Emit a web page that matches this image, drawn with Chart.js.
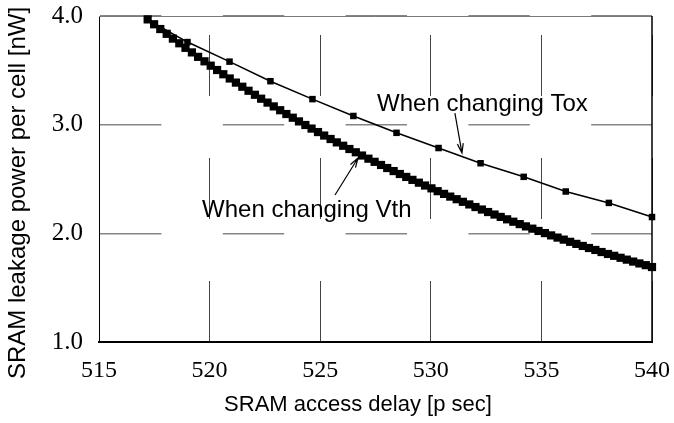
<!DOCTYPE html>
<html>
<head>
<meta charset="utf-8">
<script src="https://cdn.jsdelivr.net/npm/chart.js@4.4.1/dist/chart.umd.min.js"></script>
<style>
  html, body { margin: 0; padding: 0; background: #ffffff; }
  #wrap { width: 674px; height: 423px; }
</style>
</head>
<body>
<div id="wrap"><canvas id="c" width="674" height="423"></canvas></div>
<script>
// ---- data ----
const xTickValues = [515, 520, 525, 530, 535, 540];
const yTickValues = [1.0, 2.0, 3.0, 4.0];

const xTitle = "SRAM access delay [p sec]";
const yTitle = "SRAM leakage power per cell [nW]";
const labelTox = "When changing Tox";
const labelVth = "When changing Vth";

// "When changing Tox" series (delay [ps], power [nW])
const toxDelay = [517.2, 519.0, 520.9, 522.75, 524.65, 526.5, 528.45, 530.35, 532.25, 534.2, 536.1, 538.05, 540.0];
const toxPower = [3.965, 3.76, 3.58, 3.40, 3.235, 3.08, 2.925, 2.785, 2.645, 2.52, 2.385, 2.28, 2.15];

// "When changing Vth" series (delay [ps], power [nW])
const vthDelay = [
  517.20, 517.49, 517.77, 518.06, 518.34, 518.63, 518.91, 519.20, 519.48, 519.77,
  520.05, 520.34, 520.62, 520.91, 521.19, 521.48, 521.76, 522.05, 522.33, 522.62,
  522.90, 523.19, 523.47, 523.76, 524.04, 524.33, 524.61, 524.90, 525.18, 525.47,
  525.75, 526.04, 526.32, 526.61, 526.89, 527.18, 527.46, 527.75, 528.03, 528.32,
  528.60, 528.89, 529.17, 529.46, 529.74, 530.03, 530.31, 530.60, 530.88, 531.17,
  531.45, 531.74, 532.02, 532.31, 532.59, 532.88, 533.16, 533.45, 533.73, 534.02,
  534.30, 534.59, 534.87, 535.16, 535.44, 535.73, 536.01, 536.30, 536.58, 536.87,
  537.15, 537.44, 537.72, 538.01, 538.29, 538.58, 538.86, 539.15, 539.43, 539.72,
  540.00
];
const vthPower = [
  3.969, 3.924, 3.880, 3.836, 3.792, 3.749, 3.707, 3.665, 3.624, 3.583,
  3.543, 3.503, 3.464, 3.425, 3.387, 3.349, 3.312, 3.275, 3.239, 3.203,
  3.168, 3.133, 3.098, 3.064, 3.030, 2.997, 2.964, 2.932, 2.900, 2.868,
  2.837, 2.806, 2.776, 2.746, 2.716, 2.687, 2.658, 2.629, 2.601, 2.573,
  2.546, 2.519, 2.492, 2.466, 2.440, 2.414, 2.388, 2.363, 2.338, 2.314,
  2.290, 2.266, 2.242, 2.219, 2.196, 2.173, 2.151, 2.129, 2.107, 2.085,
  2.064, 2.043, 2.022, 2.002, 1.981, 1.961, 1.942, 1.922, 1.903, 1.884,
  1.865, 1.847, 1.828, 1.810, 1.793, 1.775, 1.758, 1.740, 1.723, 1.707,
  1.690
];

// ---- build chart ----
const toxPoints = toxDelay.map((d, i) => ({ x: d, y: toxPower[i] }));
const vthPoints = vthDelay.map((d, i) => ({ x: d, y: vthPower[i] }));

const annotationPlugin = {
  id: 'annot',
  beforeDatasetsDraw(chart) {
    const { ctx, chartArea: a } = chart;
    ctx.save();
    ctx.lineWidth = 1;
    ctx.strokeStyle = '#7a7a7a';
    ctx.beginPath();
    ctx.moveTo(a.left, a.top + 0.5);
    ctx.lineTo(a.right, a.top + 0.5);
    ctx.stroke();
    ctx.strokeStyle = '#000000';
    ctx.lineWidth = 1.5;
    ctx.beginPath();
    ctx.moveTo(a.right, a.top);
    ctx.lineTo(a.right, a.bottom);
    ctx.stroke();
    ctx.restore();
  },
  afterDatasetsDraw(chart) {
    const { ctx } = chart;
    const xs = chart.scales.x, ys = chart.scales.y;
    const px = v => xs.getPixelForValue(v);
    const py = v => ys.getPixelForValue(v);
    ctx.save();
    ctx.fillStyle = '#000000';

    // axis titles
    ctx.textAlign = 'center';
    ctx.textBaseline = 'middle';
    ctx.font = '22px "Liberation Sans", Arial, sans-serif';
    ctx.fillText(xTitle, 358, 405);
    ctx.save();
    ctx.translate(18, 193);
    ctx.rotate(-Math.PI / 2);
    ctx.font = '24px "Liberation Sans", Arial, sans-serif';
    ctx.fillText(yTitle, 0, 0);
    ctx.restore();

    // annotations
    ctx.font = '24px "Liberation Sans", Arial, sans-serif';
    ctx.textBaseline = 'alphabetic';
    ctx.textAlign = 'left';
    ctx.fillText(labelTox, px(527.57), py(3.126));
    ctx.fillText(labelVth, px(519.66), py(2.150));

    const arrow = (x1, y1, x2, y2) => {
      const X1 = px(x1), Y1 = py(y1), X2 = px(x2), Y2 = py(y2);
      ctx.strokeStyle = '#000000';
      ctx.lineWidth = 1.2;
      ctx.beginPath();
      ctx.moveTo(X1, Y1);
      ctx.lineTo(X2, Y2);
      const ang = Math.atan2(Y2 - Y1, X2 - X1);
      const L = 10, h = 0.3;
      ctx.moveTo(X2 - L * Math.cos(ang - h), Y2 - L * Math.sin(ang - h));
      ctx.lineTo(X2, Y2);
      ctx.lineTo(X2 - L * Math.cos(ang + h), Y2 - L * Math.sin(ang + h));
      ctx.stroke();
    };
    arrow(531.09, 3.107, 531.41, 2.739);
    arrow(525.67, 2.353, 526.71, 2.693);
    ctx.restore();
  }
};

new Chart(document.getElementById('c'), {
  type: 'scatter',
  data: {
    datasets: [
      {
        label: labelVth,
        data: vthPoints,
        showLine: true,
        borderColor: '#000000',
        backgroundColor: '#000000',
        borderWidth: 3,
        pointStyle: 'rect',
        pointRadius: 5.8,
        pointBorderWidth: 0,
        pointBackgroundColor: '#000000',
        tension: 0,
        clip: false
      },
      {
        label: labelTox,
        data: toxPoints,
        showLine: true,
        borderColor: '#000000',
        backgroundColor: '#000000',
        borderWidth: 1.6,
        pointStyle: 'rect',
        pointRadius: 4.6,
        pointBorderWidth: 0,
        pointBackgroundColor: '#000000',
        tension: 0,
        clip: false
      }
    ]
  },
  options: {
    responsive: false,
    devicePixelRatio: 1,
    animation: false,
    events: [],
    layout: { padding: { top: 16, right: 22, bottom: 0, left: 0 } },
    plugins: {
      legend: { display: false },
      tooltip: { enabled: false },
      title: { display: false }
    },
    scales: {
      x: {
        type: 'linear',
        min: xTickValues[0],
        max: xTickValues[xTickValues.length - 1],
        afterBuildTicks: s => { s.ticks = xTickValues.map(v => ({ value: v })); },
        afterFit: s => { s.height = 81; s.paddingLeft = 0; s.paddingRight = 0; },
        ticks: {
          color: '#000000',
          padding: 14,
          font: { family: '"Liberation Serif", "Times New Roman", serif', size: 24 },
          callback: v => String(v)
        },
        grid: { color: '#444444', lineWidth: 1, drawTicks: false },
        border: { display: true, color: '#000000', width: 2, dash: [61, 62], dashOffset: 104 },
        title: { display: false }
      },
      y: {
        type: 'linear',
        min: yTickValues[0],
        max: yTickValues[yTickValues.length - 1],
        afterBuildTicks: s => { s.ticks = yTickValues.map(v => ({ value: v })); },
        afterFit: s => { s.width = 99; s.paddingTop = 0; s.paddingBottom = 0; },
        ticks: {
          color: '#000000',
          padding: 16,
          font: { family: '"Liberation Serif", "Times New Roman", serif', size: 25 },
          callback: v => Number(v).toFixed(1)
        },
        grid: { color: '#858585', lineWidth: 1.5, drawTicks: false },
        border: { display: true, color: '#000000', width: 1, dash: [61.4, 61.4], dashOffset: 0 },
        title: { display: false }
      }
    }
  },
  plugins: [annotationPlugin]
});
</script>
</body>
</html>
